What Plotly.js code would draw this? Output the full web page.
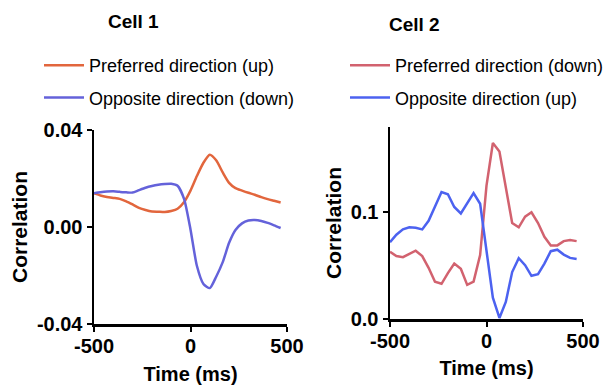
<!DOCTYPE html>
<html>
<head>
<meta charset="utf-8">
<script src="https://cdn.plot.ly/plotly-3.0.1.min.js"></script>
<style>html,body{margin:0;padding:0;background:#fff;}#chart{width:613px;height:388px;}</style>
</head>
<body>
<div id="chart"></div>
<script>
// Time lags (ms)
var timeMs = [-500,-467,-433,-400,-367,-333,-300,-267,-233,-200,-167,-133,-100,-67,-33,0,33,67,100,133,167,200,233,267,300,333,367,400,433,467];

// Cell 1
var cell1Preferred = [0.0139,0.0130,0.0124,0.0120,0.0116,0.0106,0.0093,0.0079,0.0070,0.0064,0.0063,0.0062,0.0066,0.0075,0.0103,0.0150,0.0210,0.0265,0.0298,0.0275,0.0225,0.0182,0.0160,0.0150,0.0141,0.0133,0.0123,0.0115,0.0108,0.0101];
var cell1Opposite  = [0.0139,0.0143,0.0146,0.0147,0.0145,0.0143,0.0142,0.0152,0.0162,0.0169,0.0174,0.0177,0.0178,0.0170,0.0115,-0.0010,-0.0160,-0.0235,-0.0252,-0.0205,-0.0145,-0.0065,-0.0012,0.0015,0.0027,0.0029,0.0025,0.0017,0.0007,-0.0004];

// Cell 2
var cell2Preferred = [0.063,0.059,0.058,0.061,0.064,0.059,0.048,0.035,0.033,0.043,0.052,0.047,0.032,0.035,0.060,0.125,0.165,0.157,0.122,0.090,0.086,0.096,0.100,0.090,0.077,0.069,0.069,0.073,0.074,0.073];
var cell2Opposite  = [0.072,0.079,0.084,0.086,0.0855,0.084,0.092,0.106,0.119,0.117,0.105,0.099,0.109,0.118,0.108,0.065,0.020,0.001,0.016,0.044,0.057,0.0505,0.0405,0.042,0.052,0.0636,0.065,0.0604,0.0573,0.0563];

var names1 = ['Preferred direction (up)', 'Opposite direction (down)'];
var names2 = ['Preferred direction (down)', 'Opposite direction (up)'];
var panelTitles = ['Cell 1', 'Cell 2'];

var xTickVals = [-500, 0, 500];
var xTickText = ['-500', '0', '500'];
var y1TickVals = [-0.04, 0, 0.04];
var y1TickText = ['-0.04', '0.00', '0.04'];
var y2TickVals = [0, 0.1];
var y2TickText = ['0.0', '0.1'];

var FONT = 'Liberation Sans, Arial, Helvetica, sans-serif';
var c1Orange = '#E2663D', c1Blue = '#6462DA', c2Red = '#D2626F', c2Blue = '#4C62F0';

var traces = [
  {x: timeMs, y: cell1Preferred, name: names1[0], type: 'scatter', mode: 'lines', xaxis: 'x', yaxis: 'y', legend: 'legend', legendgroup: 'a',
   line: {color: c1Orange, width: 2.5, shape: 'spline', smoothing: 0.6}},
  {x: timeMs, y: cell1Opposite, name: names1[1], type: 'scatter', mode: 'lines', xaxis: 'x', yaxis: 'y', legend: 'legend', legendgroup: 'b',
   line: {color: c1Blue, width: 2.5, shape: 'spline', smoothing: 0.6}},
  {x: timeMs, y: cell2Preferred, name: names2[0], type: 'scatter', mode: 'lines', xaxis: 'x2', yaxis: 'y2', legend: 'legend2', legendgroup: 'c',
   line: {color: c2Red, width: 2.5}},
  {x: timeMs, y: cell2Opposite, name: names2[1], type: 'scatter', mode: 'lines', xaxis: 'x2', yaxis: 'y2', legend: 'legend2', legendgroup: 'd',
   line: {color: c2Blue, width: 2.5}}
];

function xAxis(domain, anchor, standoff) {
  return {domain: domain, anchor: anchor, range: [-500, 500], tickmode: 'array', tickvals: xTickVals, ticktext: xTickText,
    showline: true, linecolor: '#000', linewidth: 2.5, ticks: 'outside', ticklen: 5, tickwidth: 2, tickcolor: '#000',
    ticklabelstandoff: -3,
    showgrid: false, zeroline: false, tickfont: {family: FONT, size: 20, color: '#000', weight: 'bold'},
    title: {text: '<b>Time (ms)</b>', font: {family: FONT, size: 20, color: '#000'}, standoff: standoff}};
}
function yAxis(domain, anchor, range, tv, tt) {
  return {domain: domain, anchor: anchor, range: range, tickmode: 'array', tickvals: tv, ticktext: tt,
    showline: true, linecolor: '#000', linewidth: 2.5, ticks: 'outside', ticklen: 5, tickwidth: 2, tickcolor: '#000',
    showgrid: false, zeroline: false, tickfont: {family: FONT, size: 20, color: '#000', weight: 'bold'},
    title: {text: '<b>Correlation</b>', font: {family: FONT, size: 21, color: '#000'}, standoff: 4}};
}

var legendCommon = {xanchor: 'left', yanchor: 'top', bgcolor: 'rgba(0,0,0,0)',
  font: {family: FONT, size: 18, color: '#000'}, tracegroupgap: 6, itemwidth: 40};

var layout = {
  width: 613, height: 388,
  margin: {l: 0, r: 0, t: 0, b: 0},
  paper_bgcolor: '#fff', plot_bgcolor: '#fff',
  font: {family: FONT, color: '#000'},
  showlegend: true,
  xaxis: xAxis([94/613, 287/613], 'y', 12),
  yaxis: yAxis([64/388, 258/388], 'x', [-0.04, 0.04], y1TickVals, y1TickText),
  xaxis2: xAxis([390/613, 583/613], 'y2', 11),
  yaxis2: yAxis([69/388, 261/388], 'x2', [0, 0.18], y2TickVals, y2TickText),
  legend: Object.assign({x: 39/613, y: 1 - 47/388}, legendCommon),
  legend2: Object.assign({x: 345/613, y: 1 - 47/388}, legendCommon),
  annotations: [
    {text: '<b>' + panelTitles[0] + '</b>', xref: 'paper', yref: 'paper', x: 133/613, y: 1 - 21/388, xanchor: 'center', yanchor: 'middle',
     showarrow: false, font: {family: FONT, size: 19, color: '#000'}},
    {text: '<b>' + panelTitles[1] + '</b>', xref: 'paper', yref: 'paper', x: 414/613, y: 1 - 24/388, xanchor: 'center', yanchor: 'middle',
     showarrow: false, font: {family: FONT, size: 19, color: '#000'}}
  ]
};

Plotly.newPlot('chart', traces, layout, {staticPlot: true, displayModeBar: false});
</script>
</body>
</html>
